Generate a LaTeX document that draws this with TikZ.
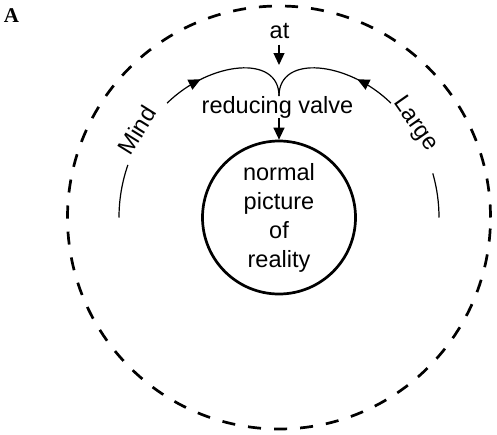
\documentclass[tikz,border=0pt]{standalone}
\usepackage{fontspec}
\setmainfont{Liberation Sans}
\newfontfamily\labelserif{Liberation Serif}
\usetikzlibrary{arrows.meta,decorations.markings,calc}
\begin{document}
\begin{tikzpicture}[x=1pt,y=1pt,
  txt/.style={font=\fontsize{23.5}{29}\selectfont, inner sep=0pt},
  thinline/.style={line width=1.2pt},
  flowarrow/.style={line width=1.3pt,-{Triangle[length=12pt,width=11pt]}},
  midarrow/.style={thinline, decoration={markings, mark=at position 0.3 with {\arrow{Triangle[length=12pt,width=11pt]}}}, postaction={decorate}}
]
\useasboundingbox (0,0) rectangle (497,-434);
\coordinate (C) at (279,-217.5);
% outer dashed circle
\draw[line width=2.7pt, dash pattern=on 13.05pt off 13.05pt] (C) circle[radius=211.5];
% inner circle
\node[circle, draw, line width=2.7pt, minimum size=153pt, inner sep=0pt, txt, align=center] (reality) at (C) {normal\\picture\\of\\reality};
% lower arc segments
\draw[thinline] ($(C)+(180:160)$) arc[start angle=180, end angle=160.8, radius=160];
\draw[thinline] ($(C)+(0:160)$) arc[start angle=0, end angle=16, radius=160];
% upper curves to cusp
\coordinate (P1) at (167.1,-103.1);
\coordinate (P2) at (390.9,-103.1);
\coordinate (K) at (279,-96);
\draw[midarrow] (P1) .. controls (210,-61.1) and (279,-54) .. (K);
\draw[midarrow] (P2) .. controls (348,-61.1) and (279,-54) .. (K);
% labels
\node[txt, rotate=58] (mind) at (137,-130) {Mind};
\node[txt, rotate=-55] (large) at (415,-124) {Large};
\node[txt, anchor=base] (at) at (279.5,-38.3) {at};
\node[txt, anchor=base] (valve) at (277.5,-113.3) {reducing valve};
\coordinate (atend) at (279,-65);
\draw[flowarrow] (279,-44.5) -- (atend);
\draw[flowarrow] (279,-118.3) -- (reality.north);
% panel letter
\node[anchor=base west, inner sep=0pt, scale=1.5] (panel) at (3.5,-22.7) {\labelserif\fontsize{14}{17}\selectfont\bfseries A};
\end{tikzpicture}
\end{document}
